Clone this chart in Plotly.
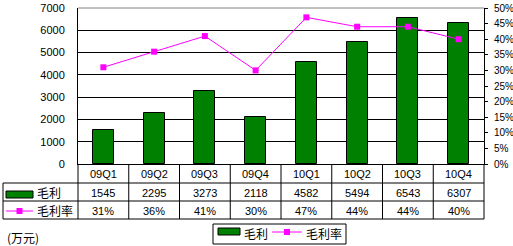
import plotly.graph_objects as go

categories = ["09Q1", "09Q2", "09Q3", "09Q4", "10Q1", "10Q2", "10Q3", "10Q4"]
gross_profit = [1545, 2295, 3273, 2118, 4582, 5494, 6543, 6307]
gross_margin = [0.31, 0.36, 0.41, 0.30, 0.47, 0.44, 0.44, 0.40]
margin_labels = ["31%", "36%", "41%", "30%", "47%", "44%", "44%", "40%"]
name_bar = "毛利"
name_line = "毛利率"
unit_label = "(万元)"

W, H = 513, 246
L, R, T, B = 78, 484, 8, 164  # plot area in pixels
PW, PH = R - L, B - T

def px(xp):
    return (xp - L) / PW

def py(yp):
    return (B - yp) / PH

FONT = "Liberation Sans, Arial, Noto Sans CJK SC, sans-serif"
CJK = "Noto Sans CJK SC, Liberation Sans, sans-serif"
GREEN = "#008000"
MAG = "#FF00FF"

xs = list(range(len(categories)))

fig = go.Figure()
fig.add_trace(go.Bar(
    x=xs, y=gross_profit, name=name_bar, width=0.41,
    marker=dict(color=GREEN, line=dict(color="black", width=1)),
))
fig.add_trace(go.Scatter(
    x=xs, y=gross_margin, name=name_line, yaxis="y2", mode="lines+markers",
    line=dict(color=MAG, width=1),
    marker=dict(symbol="square", size=6, color=MAG),
))

shapes = []
annotations = []

def hline(x0, x1, y, xref="paper", color="black"):
    shapes.append(dict(type="line", xref=xref, yref="paper", x0=x0, x1=x1, y0=py(y), y1=py(y),
                       line=dict(color=color, width=1), layer="above"))

def vline(x, y0, y1, xref="paper"):
    shapes.append(dict(type="line", xref=xref, yref="paper", x0=x, x1=x, y0=py(y0), y1=py(y1),
                       line=dict(color="black", width=1), layer="above"))

def text(x, y, s, xref="paper", xanchor="center", size=11, family=FONT):
    annotations.append(dict(x=x, y=py(y), xref=xref, yref="paper", text=s, showarrow=False,
                            xanchor=xanchor, yanchor="middle",
                            font=dict(size=size, family=family, color="black")))

def key_bar(x0, x1, y0, y1):
    shapes.append(dict(type="rect", xref="paper", yref="paper", x0=px(x0), x1=px(x1),
                       y0=py(y1), y1=py(y0), fillcolor=GREEN,
                       line=dict(color="black", width=1), layer="above"))

def key_line(x0, x1, y):
    shapes.append(dict(type="line", xref="paper", yref="paper", x0=px(x0), x1=px(x1),
                       y0=py(y), y1=py(y), line=dict(color=MAG, width=1), layer="above"))
    xm = (x0 + x1) / 2
    shapes.append(dict(type="rect", xref="paper", yref="paper", x0=px(xm - 3), x1=px(xm + 3),
                       y0=py(y + 3), y1=py(y - 3), fillcolor=MAG,
                       line=dict(color=MAG, width=0), layer="above"))

# top border of plot area (gray)
hline(0, 1, T, color="#808080")
# table horizontal lines
for yy in (183, 201, 219):
    hline(px(3), 1, yy)
# table vertical lines
vline(px(3), 183, 219)
vline(0, 164, 219)
vline(1, 164, 219)
for i in range(len(categories) - 1):
    vline(i + 0.5, 164, 219, xref="x")

# table text
for i, c in enumerate(categories):
    text(i, 174, c, xref="x")
    text(i, 192.5, str(gross_profit[i]), xref="x")
    text(i, 210.5, margin_labels[i], xref="x")

# table row keys
key_bar(6, 33, 191, 198)
key_line(6, 33, 211)
text(px(35), 192.5, name_bar, xanchor="left", size=12, family=CJK)
text(px(35), 210.5, name_line, xanchor="left", size=12, family=CJK)
text(px(5), 237, unit_label, xanchor="left", size=12, family=CJK)

# bottom legend
shapes.append(dict(type="rect", xref="paper", yref="paper", x0=px(213), x1=px(346),
                   y0=py(244), y1=py(224), fillcolor="white",
                   line=dict(color="black", width=1), layer="above"))
key_bar(218, 240, 228, 235)
text(px(242), 233.5, name_bar, xanchor="left", size=12, family=CJK)
key_line(272, 302, 232)
text(px(304), 233.5, name_line, xanchor="left", size=12, family=CJK)

fig.update_layout(
    width=W, height=H,
    margin=dict(l=L, r=W - R, t=T, b=H - B, pad=0, autoexpand=False),
    paper_bgcolor="white", plot_bgcolor="white",
    bargap=0,
    showlegend=False,
    xaxis=dict(range=[-0.5, len(categories) - 0.5], showticklabels=False, showgrid=False,
               zeroline=False, showline=True, linecolor="black", linewidth=1, ticks=""),
    yaxis=dict(range=[0, 7000], dtick=1000, showgrid=True, gridcolor="black", gridwidth=1,
               zeroline=False, showline=True, linecolor="black", linewidth=1, ticks="",
               ticklabelstandoff=10, tickfont=dict(size=11, family=FONT, color="black")),
    yaxis2=dict(range=[0, 0.5], dtick=0.05, tickformat=".0%", overlaying="y", side="right",
                showgrid=False, zeroline=False, showline=True, linecolor="black", linewidth=1,
                ticks="outside", ticklen=3, tickcolor="black", ticklabelstandoff=4,
                tickfont=dict(size=10, family=FONT, color="black")),
    shapes=shapes,
    annotations=annotations,
)

fig.write_html("out.html")
